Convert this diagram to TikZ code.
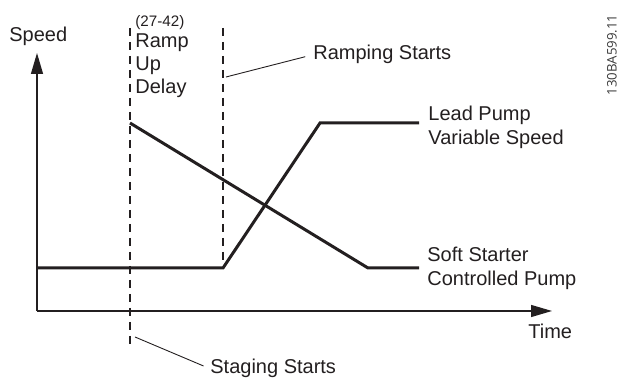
\documentclass[tikz,border=0pt]{standalone}
\usepackage{fontspec}
\setmainfont{Liberation Sans}
\newfontfamily\codefont{Open Sans}
\usepackage{xcolor}
\usetikzlibrary{
  arrows.meta,
  positioning
}
\definecolor{ink}{HTML}{231F20}
\definecolor{codeTxt}{HTML}{3A3A3A}
\tikzset{
  axis/.style={line width=0.65pt, draw=ink,
    -{Triangle[length=10.5pt,width=6pt]}},
  curve/.style={line width=1.5pt, draw=ink, line join=miter},
  guide/.style={line width=0.6pt, draw=ink, dash pattern=on 4pt off 3pt},
  leader/.style={line width=0.45pt, draw=ink},
  lbl/.style={inner sep=0pt, align=left, anchor=north west, text=ink,
    font=\fontsize{10}{11.7}\selectfont}
}

\begin{document}
\begin{tikzpicture}[x=0.5pt, y=-0.5pt]
    \useasboundingbox (0,0) rectangle (623,378);

    % axes
    \coordinate (orig) at (37,311);
    \coordinate (ytip) at (37,53);
    \coordinate (xtip) at (552,311);
    \draw[axis] (orig) -- (ytip);
    \draw[axis] (orig) -- (xtip);

    \node[lbl] (speedlbl) at (9,27) {Speed};
    \node[lbl] (timelbl) at (528,324) {Time};

    % staging and ramping marks
    \coordinate (stagetop) at (130,28);
    \coordinate (stagebot) at (130,345);
    \coordinate (ramptop) at (223,28);
    \coordinate (rampbot) at (223,262);
    \draw[guide] (stagetop) -- (stagebot);
    \draw[guide] (ramptop) -- (rampbot);

    \node[lbl, anchor=base west, font=\fontsize{7.6}{9}\selectfont]
      (delaypar) at (135,27) {(27-42)};
    \node[lbl] (delaylbl) at (135,33) {Ramp\\Up\\Delay};

    \node[lbl] (rampinglbl) at (313,45) {Ramping Starts};
    \node[lbl] (staginglbl) at (210,359) {Staging Starts};

    \coordinate (rampmark) at (226,77);
    \coordinate (stagemark) at (135,337);
    \draw[leader, shorten >=4pt] (rampmark) -- (rampinglbl.west);
    \draw[leader, shorten >=3.5pt] (stagemark) -- (staginglbl.west);

    % speed curves
    \coordinate (leadA) at (37,268);
    \coordinate (leadB) at (223,268);
    \coordinate (leadC) at (320,123);
    \coordinate (leadD) at (419,123);
    \coordinate (softA) at (130,123);
    \coordinate (softB) at (368,268);
    \coordinate (softC) at (419,268);
    \draw[curve] (leadA) -- (leadB) -- (leadC) -- (leadD);
    \draw[curve] (softA) -- (softB) -- (softC);

    \node[lbl] (leadlbl) at (428,106) {Lead Pump\\Variable Speed};
    \node[lbl] (softlbl) at (427,247) {Soft Starter\\Controlled Pump};

    \node[rotate=90, inner sep=0pt, text=codeTxt,
          font=\codefont\fontsize{6.6}{8}\selectfont]
      (figid) at (612,55) {130BA599.11};

  \end{tikzpicture}
\end{document}
